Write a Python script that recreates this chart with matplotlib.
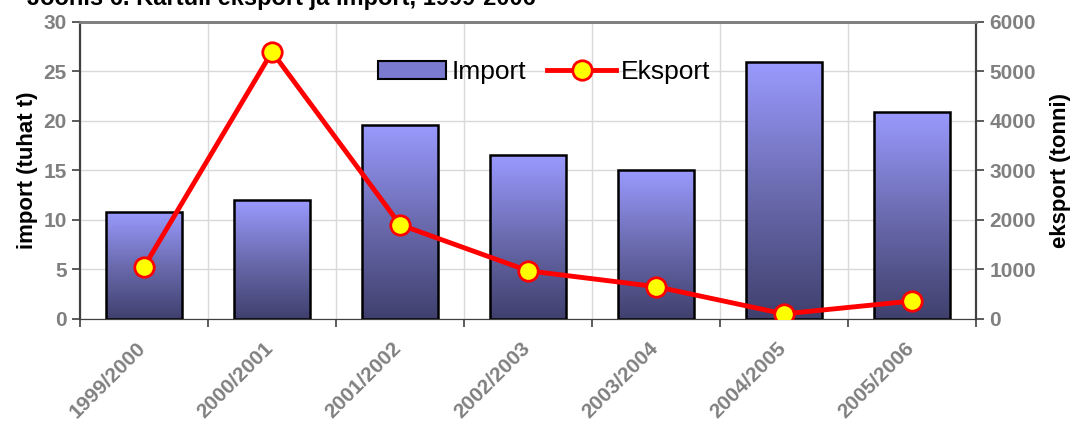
import numpy as np
import matplotlib.pyplot as plt
import matplotlib.transforms as mtransforms
from matplotlib.colors import LinearSegmentedColormap
from matplotlib.lines import Line2D
from matplotlib.patches import Patch

plt.rcParams['font.family'] = ['Liberation Sans', 'DejaVu Sans']

seasons = ['1999/2000', '2000/2001', '2001/2002', '2002/2003',
           '2003/2004', '2004/2005', '2005/2006']
import_kt = [10.8, 12.0, 19.6, 16.5, 15.0, 25.9, 20.9]
export_t = [1050, 5390, 1900, 970, 650, 100, 360]

gray = '#808080'

fig = plt.figure(figsize=(10.77, 4.24), dpi=100)
ax = fig.add_axes([0.0743, 0.248, 0.832, 0.701])
ax2 = ax.twinx()

x = np.arange(len(seasons))
bars = ax.bar(x, import_kt, width=0.6, facecolor='none', edgecolor='black',
              linewidth=1.8, zorder=3)

# vertical gradient inside each bar
cmap = LinearSegmentedColormap.from_list('imp', ['#40406e', '#6b6bb0', '#9a9aff'])
grad = np.linspace(0, 1, 256).reshape(-1, 1)
for b in bars:
    im = ax.imshow(grad, cmap=cmap, origin='lower', aspect='auto',
                   extent=[b.get_x(), b.get_x() + b.get_width(), 0, b.get_height()],
                   zorder=2)
    im.set_clip_path(b)

ax.set_xlim(-0.5, len(seasons) - 0.5)
ax.set_ylim(0, 30)
ax.set_yticks(range(0, 31, 5))
ax.set_xticks(x)
ax.set_xticklabels(seasons, rotation=45, ha='right', rotation_mode='anchor')
ax.set_xticks(np.arange(-0.5, len(seasons)), minor=True)
ax.tick_params(axis='x', which='major', length=0, pad=14)
ax.tick_params(axis='x', which='minor', length=6, color='#404040', width=1.2)
ax.grid(axis='y', color='#d9d9d9', linewidth=1, zorder=0)
ax.grid(axis='x', which='minor', color='#d9d9d9', linewidth=1, zorder=0)
ax.set_axisbelow(True)

ax2.plot(x, export_t, color='#ff0000', linewidth=3.5, marker='o', markersize=14,
         markerfacecolor='#ffff00', markeredgecolor='#ff0000', markeredgewidth=2,
         zorder=5)
ax2.set_ylim(0, 6000)
ax2.set_yticks(range(0, 6001, 1000))

for a in (ax, ax2):
    a.tick_params(axis='y', labelsize=15, labelcolor=gray, color='#404040',
                  width=1.2, length=6)
    a.spines['top'].set_color(gray)
    a.spines['top'].set_linewidth(2)
    a.spines['left'].set_color('#404040')
    a.spines['right'].set_color('#404040')
    a.spines['left'].set_linewidth(1.5)
    a.spines['right'].set_linewidth(1.5)
    a.spines['bottom'].set_color('#404040')
ax.tick_params(axis='x', labelsize=15, labelcolor=gray)
shift = mtransforms.ScaledTranslation(-0.08, 0, fig.dpi_scale_trans)
for lab in ax.get_xticklabels():
    lab.set_transform(lab.get_transform() + shift)
for a in (ax, ax2):
    for lab in a.get_yticklabels() + a.get_xticklabels():
        lab.set_fontweight('bold')

ax.set_ylabel('import (tuhat t)', fontsize=16, fontweight='bold', labelpad=4)
ax2.set_ylabel('eksport (tonni)', fontsize=16, fontweight='bold', labelpad=10)

handles = [Patch(facecolor='#7a7ad0', edgecolor='black', linewidth=1.5),
           Line2D([], [], color='#ff0000', linewidth=3.5, marker='o', markersize=14,
                  markerfacecolor='#ffff00', markeredgecolor='#ff0000',
                  markeredgewidth=2)]
ax2.legend(handles, ['Import', 'Eksport'], loc='center', ncol=2,
           frameon=False, fontsize=19, bbox_to_anchor=(0.518, 0.83),
           handlelength=2.6, handletextpad=0.2, columnspacing=0.8)

fig.text(0.025, 1.003, 'Joonis 6. Kartuli eksport ja import, 1999-2006',
         fontsize=17, fontweight='bold', va='center', ha='left')

fig.savefig('out.png', dpi=100)
